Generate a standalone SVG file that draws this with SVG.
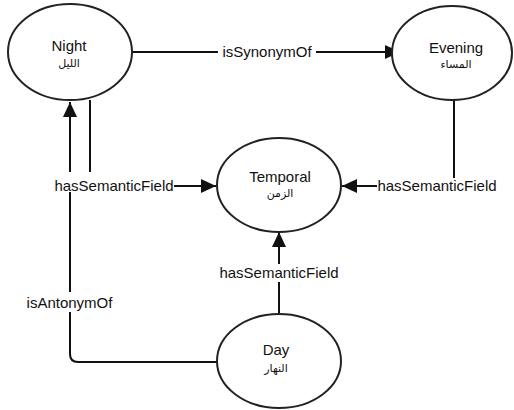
<svg xmlns="http://www.w3.org/2000/svg" width="514" height="410" viewBox="0 0 514 410">
<style>
.node{fill:#fff;stroke:#222;stroke-width:2}
.t{font-family:"Liberation Sans",Arial,sans-serif;font-size:15px;fill:#111;text-anchor:middle}
.ar{font-family:"DejaVu Sans",sans-serif;font-size:11px;fill:#111;text-anchor:middle}
.edge{fill:none;stroke:#111;stroke-width:2}
.lbg{fill:#fff}
</style>
<defs>
<marker id="arr" markerUnits="userSpaceOnUse" markerWidth="16" markerHeight="16" viewBox="0 0 16 16" refX="15" refY="8" orient="auto">
<path d="M0,1 L15,8 L0,15 Z" fill="#111"/>
</marker>
</defs>
<rect width="514" height="410" fill="#fff"/>
<g id="connectors">
<path class="edge" d="M132,52 H400" marker-end="url(#arr)"/>
<path class="edge" d="M454,100 V186 H342" marker-end="url(#arr)"/>
<path class="edge" d="M90,100 V186 H216" marker-end="url(#arr)"/>
<path class="edge" d="M217,362 H78 Q70,362 70,354 V102" marker-end="url(#arr)"/>
<path class="edge" d="M279,313 V232" marker-end="url(#arr)"/>
<rect class="lbg" x="218" y="44" width="98" height="17"/>
<text class="t" x="267" y="57">isSynonymOf</text>
<rect class="lbg" x="377" y="178" width="120" height="17"/>
<text class="t" x="437" y="191">hasSemanticField</text>
<rect class="lbg" x="54" y="172" width="120" height="20"/>
<text class="t" x="114" y="191">hasSemanticField</text>
<rect class="lbg" x="25" y="292" width="89" height="20"/>
<text class="t" x="69.5" y="308">isAntonymOf</text>
<rect class="lbg" x="219" y="264" width="120" height="18"/>
<text class="t" x="279" y="278">hasSemanticField</text>
</g>
<g id="night">
<ellipse class="node" cx="70" cy="52" rx="62" ry="48"/>
<text class="t" x="69" y="51">Night</text>
<text class="ar" x="69" y="67">الليل</text>
</g>
<g id="evening">
<ellipse class="node" cx="452" cy="53" rx="60" ry="47"/>
<text class="t" x="456" y="53">Evening</text>
<text class="ar" x="456" y="68">المساء</text>
</g>
<g id="temporal">
<ellipse class="node" cx="279" cy="185" rx="62" ry="47"/>
<text class="t" x="280" y="182">Temporal</text>
<text class="ar" x="280" y="197">الزمن</text>
</g>
<g id="day">
<ellipse class="node" cx="279" cy="361" rx="62" ry="47"/>
<text class="t" x="276" y="355">Day</text>
<text class="ar" x="276" y="372">النهار</text>
</g>
</svg>
